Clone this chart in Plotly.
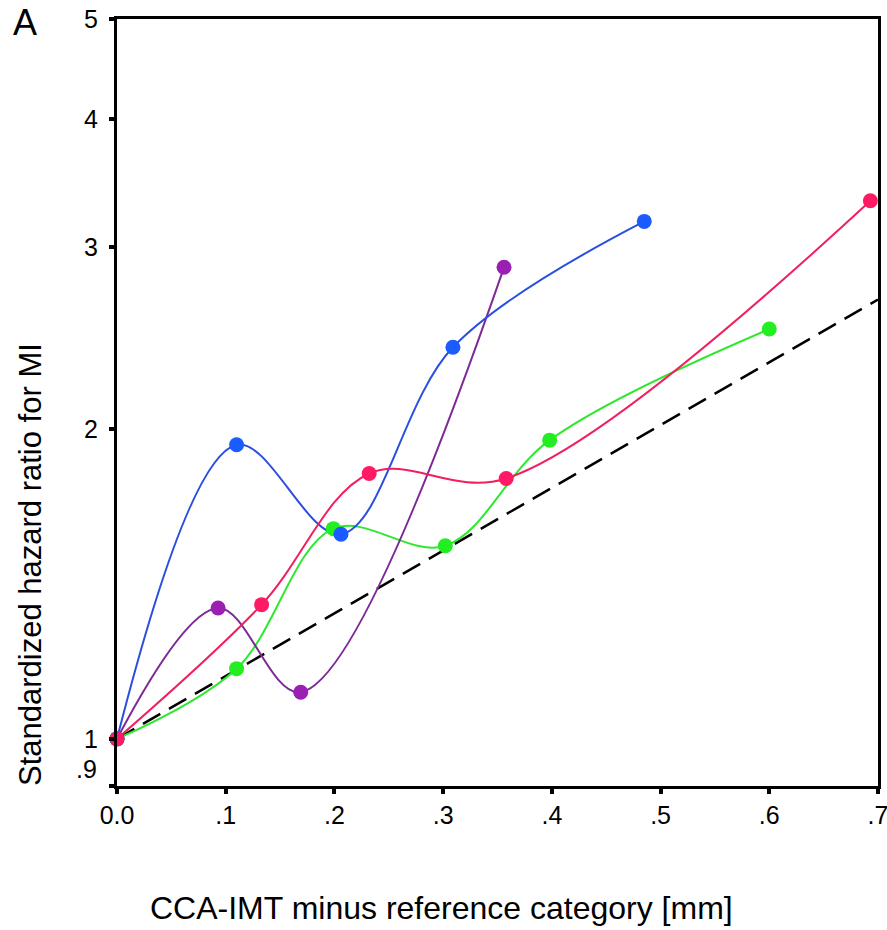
import math
import plotly.graph_objects as go

# Data
blue_x = [0.0, 0.110, 0.206, 0.309, 0.485]
blue_y = [1.0, 1.93, 1.58, 2.40, 3.18]

purple_x = [0.0, 0.093, 0.169, 0.356]
purple_y = [1.0, 1.34, 1.11, 2.87]

red_x = [0.0, 0.133, 0.232, 0.358, 0.693]
red_y = [1.0, 1.35, 1.81, 1.79, 3.33]

green_x = [0.0, 0.110, 0.199, 0.302, 0.398, 0.600]
green_y = [1.0, 1.17, 1.60, 1.54, 1.95, 2.50]

ref_x = [0.0, 0.7]
ref_y = [1.0, 2.67]

x_ticks = [0, 0.1, 0.2, 0.3, 0.4, 0.5, 0.6, 0.7]
x_ticklabels = ["0.0", ".1", ".2", ".3", ".4", ".5", ".6", ".7"]
y_ticks = [0.9, 1, 2, 3, 4, 5]
y_ticklabels = ["", "1", "2", "3", "4", "5"]
y_low_label = ".9"

series = [
    (green_x, green_y, "#2ee82e", "#22ee22"),
    (purple_x, purple_y, "#7d2a96", "#9a1fb2"),
    (blue_x, blue_y, "#2a4fe0", "#1a5cff"),
    (red_x, red_y, "#f0205e", "#ff1a66"),
]

fig = go.Figure()
fig.add_trace(go.Scatter(x=ref_x, y=ref_y, mode="lines",
                         line=dict(color="black", width=2.5, dash="20px,10px"),
                         showlegend=False, hoverinfo="skip"))
for xs, ys, lc, mc in series:
    fig.add_trace(go.Scatter(x=xs, y=ys, mode="lines",
                             line=dict(color=lc, width=2, shape="spline", smoothing=1.0),
                             showlegend=False))
for xs, ys, lc, mc in series:
    fig.add_trace(go.Scatter(x=xs, y=ys, mode="markers",
                             marker=dict(color=mc, size=15, line=dict(width=0)),
                             showlegend=False, cliponaxis=False))

font = "Liberation Sans, Arial, sans-serif"
W, L, R, T, B, H = 887, 117, 9, 19, 144, 930
pw, ph = W - L - R, H - T - B


def px(xp):
    return (xp - L) / pw


def py(yp):
    return (H - B - yp) / ph


fig.update_layout(
    width=W, height=H,
    margin=dict(l=L, r=R, t=T, b=B, autoexpand=False),
    paper_bgcolor="white", plot_bgcolor="white",
    font=dict(family=font, color="black", size=25),
    xaxis=dict(range=[0, 0.7], tickvals=x_ticks, ticktext=x_ticklabels,
               showline=True, linecolor="black", linewidth=3, mirror=True,
               ticks="outside", ticklen=5, tickwidth=4, tickcolor="black",
               automargin=False, ticklabeloverflow="allow",
               showgrid=False, zeroline=False, tickfont=dict(size=25)),
    yaxis=dict(type="log", range=[math.log10(0.9), math.log10(5)],
               tickvals=y_ticks, ticktext=y_ticklabels,
               showline=True, linecolor="black", linewidth=3, mirror=True,
               ticks="outside", ticklen=5, tickwidth=4, tickcolor="black",
               ticklabelstandoff=6, automargin=False, ticklabeloverflow="allow",
               showgrid=False, zeroline=False, tickfont=dict(size=25)),
    annotations=[
        dict(text="A", x=px(25), y=py(23), xref="paper", yref="paper",
             xanchor="center", yanchor="middle", showarrow=False,
             font=dict(size=36)),
        dict(text=y_low_label, x=px(99), y=py(769), xref="paper", yref="paper",
             xanchor="right", yanchor="middle", showarrow=False,
             font=dict(size=25)),
        dict(text="CCA-IMT minus reference category [mm]", xref="paper", yref="paper",
             x=px(441), y=py(908), xanchor="center", yanchor="middle",
             showarrow=False, font=dict(size=32)),
        dict(text="Standardized hazard ratio for MI", xref="paper", yref="paper",
             x=px(30), y=py(565), xanchor="center", yanchor="middle",
             textangle=-90, showarrow=False, font=dict(size=31)),
    ],
)

fig.write_html("out.html")
